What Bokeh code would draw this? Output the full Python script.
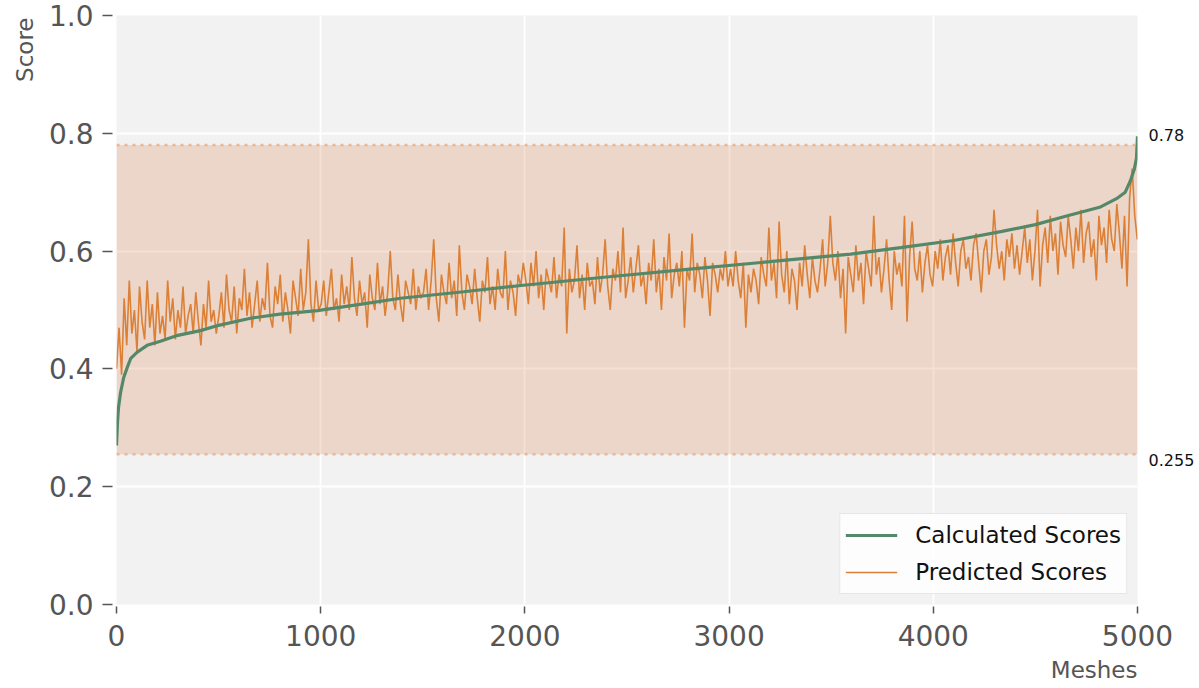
import numpy as np
from bokeh.plotting import figure
from bokeh.models import (Span, Title, Legend, LegendItem, FixedTicker,
                          NumeralTickFormatter, Range1d, LinearAxis)
from bokeh.embed import file_html
from bokeh.resources import INLINE

# ---------------- data ----------------
n_meshes = 5000
band_lo = 0.255
band_hi = 0.78

# calculated (sorted) scores: mesh rank -> score
calc_idx = [0, 5, 10, 20, 35, 50, 70, 100, 150, 215, 300, 411, 500, 656, 800,
            984, 1200, 1391, 1700, 1993, 2400, 2860, 3200, 3595, 3840, 4100,
            4330, 4500, 4657, 4819, 4902, 4940, 4966, 4985, 4995, 5000]
calc_vals = [0.27, 0.31, 0.335, 0.36, 0.385, 0.40, 0.418, 0.428, 0.44, 0.447,
             0.457, 0.465, 0.474, 0.486, 0.493, 0.499, 0.51, 0.52, 0.531,
             0.542, 0.556, 0.571, 0.582, 0.595, 0.606, 0.618, 0.633, 0.645,
             0.660, 0.675, 0.69, 0.70, 0.72, 0.74, 0.758, 0.795]

# predicted scores, sampled along the mesh ranks
pred_vals = [
    # 0-500
    0.40, 0.47, 0.39, 0.52, 0.44, 0.55, 0.46, 0.50, 0.43, 0.54, 0.48, 0.45, 0.55, 0.47, 0.51, 0.44, 0.53, 0.46, 0.49, 0.45,
    0.55, 0.48, 0.52, 0.45, 0.50, 0.47, 0.54, 0.46, 0.49, 0.51, 0.46, 0.53, 0.48, 0.44, 0.51, 0.47, 0.55, 0.48, 0.50, 0.46,
    # 500-1000
    0.49, 0.53, 0.47, 0.56, 0.50, 0.48, 0.54, 0.46, 0.52, 0.50, 0.57, 0.49, 0.53, 0.47, 0.51, 0.55, 0.48, 0.52, 0.50, 0.58,
    0.49, 0.47, 0.54, 0.51, 0.56, 0.48, 0.53, 0.50, 0.46, 0.55, 0.52, 0.49, 0.57, 0.50, 0.53, 0.62, 0.51, 0.48, 0.55, 0.50,
    # 1000-1500
    0.51, 0.55, 0.49, 0.53, 0.57, 0.50, 0.52, 0.48, 0.56, 0.51, 0.54, 0.50, 0.59, 0.52, 0.49, 0.55, 0.51, 0.53, 0.47, 0.56,
    0.52, 0.50, 0.58, 0.51, 0.54, 0.49, 0.53, 0.60, 0.52, 0.50, 0.56, 0.51, 0.48, 0.55, 0.53, 0.51, 0.57, 0.50, 0.54, 0.52,
    # 1500-2000
    0.53, 0.57, 0.50, 0.55, 0.62, 0.52, 0.48, 0.56, 0.53, 0.51, 0.58, 0.52, 0.55, 0.49, 0.61, 0.53, 0.50, 0.56, 0.54, 0.51,
    0.57, 0.52, 0.48, 0.55, 0.53, 0.59, 0.51, 0.54, 0.50, 0.57, 0.53, 0.52, 0.60, 0.50, 0.55, 0.53, 0.49, 0.56, 0.54, 0.58,
    # 2000-2500
    0.55, 0.51, 0.58, 0.54, 0.60, 0.52, 0.56, 0.50, 0.57, 0.55, 0.53, 0.59, 0.52, 0.56, 0.54, 0.64, 0.46, 0.57, 0.53, 0.55,
    0.61, 0.52, 0.56, 0.50, 0.58, 0.54, 0.55, 0.51, 0.59, 0.53, 0.56, 0.62, 0.54, 0.50, 0.57, 0.55, 0.60, 0.53, 0.64, 0.52,
    # 2500-3000
    0.55, 0.59, 0.53, 0.57, 0.61, 0.54, 0.56, 0.51, 0.58, 0.55, 0.62, 0.53, 0.57, 0.50, 0.59, 0.55, 0.63, 0.52, 0.56, 0.58,
    0.54, 0.60, 0.47, 0.57, 0.55, 0.63, 0.53, 0.58, 0.56, 0.52, 0.59, 0.55, 0.49, 0.58, 0.56, 0.53, 0.57, 0.55, 0.60, 0.54,
    # 3000-3500
    0.57, 0.54, 0.60, 0.55, 0.52, 0.58, 0.47, 0.56, 0.53, 0.57, 0.55, 0.51, 0.59, 0.56, 0.54, 0.64, 0.55, 0.58, 0.52, 0.65,
    0.56, 0.53, 0.60, 0.51, 0.57, 0.55, 0.50, 0.58, 0.54, 0.61, 0.56, 0.52, 0.59, 0.55, 0.53, 0.57, 0.62, 0.54, 0.58, 0.66,
    # 3500-4000
    0.58, 0.55, 0.60, 0.52, 0.57, 0.46, 0.59, 0.56, 0.53, 0.61, 0.55, 0.58, 0.51, 0.60, 0.57, 0.54, 0.66, 0.56, 0.59, 0.53,
    0.57, 0.62, 0.55, 0.50, 0.60, 0.56, 0.58, 0.54, 0.66, 0.48, 0.59, 0.65, 0.57, 0.55, 0.60, 0.53, 0.58, 0.61, 0.56, 0.54,
    # 4000-4500
    0.60, 0.57, 0.62, 0.55, 0.59, 0.61, 0.56, 0.63, 0.58, 0.54, 0.60, 0.62, 0.57, 0.59, 0.55, 0.61, 0.63, 0.58, 0.53, 0.60,
    0.62, 0.56, 0.59, 0.67, 0.61, 0.57, 0.60, 0.55, 0.62, 0.59, 0.63, 0.57, 0.61, 0.56, 0.60, 0.64, 0.58, 0.62, 0.55, 0.60,
    # 4500-5000
    0.67, 0.54, 0.61, 0.64, 0.58, 0.66, 0.60, 0.63, 0.56, 0.65, 0.61, 0.59, 0.66, 0.62, 0.57, 0.64, 0.60, 0.67, 0.58, 0.63,
    0.65, 0.59, 0.62, 0.55, 0.66, 0.61, 0.64, 0.58, 0.67, 0.62, 0.60, 0.68, 0.63, 0.57, 0.66, 0.54, 0.69, 0.74, 0.66, 0.62,
]
pred_idx = np.linspace(0, n_meshes - 1, len(pred_vals))

x_ticks = [0, 1000, 2000, 3000, 4000, 5000]
y_ticks = [0.0, 0.2, 0.4, 0.6, 0.8, 1.0]

# ---------------- styling ----------------
FONT = "DejaVu Sans"
GREEN = "#558869"
ORANGE = "#dc8037"
BAND = "#d9824f"
TXT = "#555555"
FRAME_H = 589

p = figure(frame_width=1021, frame_height=FRAME_H,
           x_range=Range1d(0, n_meshes), y_range=Range1d(0, 1),
           output_backend="svg", toolbar_location=None,
           min_border_left=116, min_border_right=61, min_border_top=15, min_border_bottom=80)
p.background_fill_color = "#f2f2f2"
p.border_fill_color = "white"
p.outline_line_color = None

# band
p.varea(x=[0, n_meshes], y1=[band_lo, band_lo], y2=[band_hi, band_hi],
        fill_color=BAND, fill_alpha=0.25)
for loc in (band_lo, band_hi):
    p.add_layout(Span(location=loc, dimension="width", line_color="#eea070",
                      line_alpha=0.7, line_width=2.5, line_dash="3 5"))

r_pred = p.line(pred_idx, pred_vals, line_color=ORANGE, line_width=1.6)
r_calc = p.line(calc_idx, calc_vals, line_color=GREEN, line_width=3.2)

# band value labels at the right (above the top line, below the bottom line)
hi_pos = band_hi + 10 / FRAME_H
lo_pos = band_lo - 6 / FRAME_H
band_axis = LinearAxis(ticker=FixedTicker(ticks=[lo_pos, hi_pos]),
                       major_label_overrides={hi_pos: f"{band_hi}", lo_pos: f"{band_lo}"},
                       axis_line_color=None, major_tick_line_color=None,
                       minor_tick_line_color=None, major_tick_in=0, major_tick_out=0,
                       major_label_standoff=11, major_label_text_font=FONT,
                       major_label_text_font_size="16px", major_label_text_color="#111111")
p.add_layout(band_axis, "right")

legend = Legend(items=[LegendItem(label="Calculated Scores", renderers=[r_calc]),
                       LegendItem(label="Predicted Scores", renderers=[r_pred])],
                location="bottom_right", margin=10, padding=5, spacing=5,
                glyph_width=52, glyph_height=32, label_height=32, label_standoff=18,
                label_text_font=FONT, label_text_font_size="23px", label_text_color="#111111",
                background_fill_color="white", background_fill_alpha=0.85,
                border_line_color="#d0d0d0", border_line_width=1)
p.add_layout(legend)

# axes
p.xaxis.ticker = FixedTicker(ticks=x_ticks)
p.yaxis[0].ticker = FixedTicker(ticks=y_ticks)
p.xaxis.formatter = NumeralTickFormatter(format="0")
p.yaxis[0].formatter = NumeralTickFormatter(format="0.0")
for ax in (p.xaxis[0], p.yaxis[0]):
    ax.axis_line_color = None
    ax.major_tick_line_color = TXT
    ax.major_tick_line_width = 1.5
    ax.minor_tick_line_color = None
    ax.major_label_text_font = FONT
    ax.major_label_text_font_size = "28px"
    ax.major_label_text_color = TXT
p.xaxis.major_tick_in = -2
p.xaxis.major_tick_out = 9
p.xaxis.major_label_standoff = 11
p.yaxis[0].major_tick_in = -4
p.yaxis[0].major_tick_out = 14
p.yaxis[0].major_label_standoff = 9

p.xgrid.grid_line_color = "white"
p.xgrid.grid_line_width = 1.8
p.ygrid.grid_line_color = "white"
p.ygrid.grid_line_width = 1.8
p.ygrid.ticker = FixedTicker(ticks=y_ticks)

p.add_layout(Title(text="Score", align="right", text_font=FONT, text_font_size="23px",
                   text_font_style="normal", text_color=TXT, standoff=16, offset=2), "left")
p.add_layout(Title(text="Meshes", align="right", text_font=FONT, text_font_size="23px",
                   text_font_style="normal", text_color=TXT, standoff=12), "below")

open("out.html", "w").write(file_html(p, INLINE))
